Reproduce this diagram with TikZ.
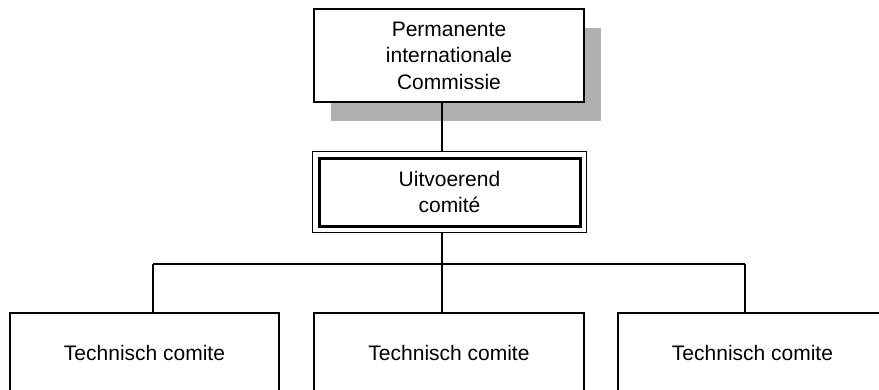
\documentclass[tikz,border=0pt]{standalone}
\usepackage{fontspec}
\setmainfont{Liberation Sans}
\usetikzlibrary{shadows}
\begin{document}
\begin{tikzpicture}[x=1pt,y=-1pt,
  box/.style={draw, fill=white, line width=2.4pt, inner sep=0pt, align=center, font=\fontsize{21}{26.5}\selectfont},
  conn/.style={line width=2.4pt}]
\useasboundingbox (0,0) rectangle (879,389);
\clip (0,0) rectangle (879,389);
\node[box, minimum width=270, minimum height=93,
  drop shadow={shadow xshift=17pt, shadow yshift=-19pt, fill=black!31, opacity=1}] (pic) at (449,55.5) {Permanente\\internationale\\Commissie};
\node[box, line width=3pt, minimum width=261, minimum height=68] (uc) at (449.5,192) {Uitvoerend\\comité};
\draw[line width=1.5pt] ([xshift=-5pt,yshift=5pt]uc.north west) rectangle ([xshift=5pt,yshift=-5pt]uc.south east);
\coordinate (uctop) at ([yshift=5pt]uc.north);
\coordinate (ucbot) at ([yshift=-5pt]uc.south);
\node[box, minimum width=269, minimum height=80] (t1) at (144.5,353) {Technisch comite};
\node[box, minimum width=270, minimum height=80] (t2) at (449,353) {Technisch comite};
\node[box, minimum width=269, minimum height=80] (t3) at (752.5,353) {Technisch comite};
\coordinate (j) at (442,264);
\coordinate (jl) at (153,264);
\coordinate (jr) at (745,264);
\draw[conn] (j |- pic.south) -- (j |- uctop);
\draw[conn] (j |- ucbot) -- (j);
\draw[conn] (jl) -- (jr);
\draw[conn] (jl) -- (jl |- t1.north);
\draw[conn] (j) -- (j |- t2.north);
\draw[conn] (jr) -- (jr |- t3.north);
\end{tikzpicture}
\end{document}
